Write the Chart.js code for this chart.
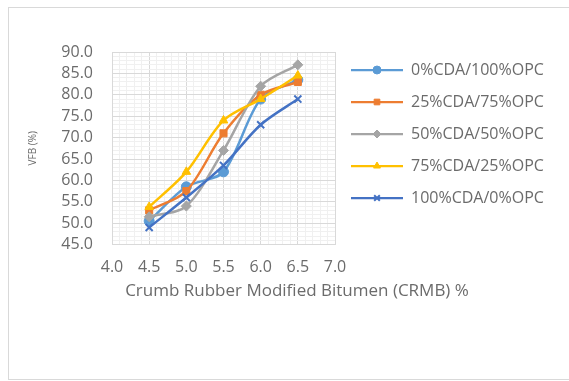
<!DOCTYPE html>
<html>
<head>
<meta charset="utf-8">
<script src="https://cdn.jsdelivr.net/npm/chart.js@4.4.1/dist/chart.umd.min.js"></script>
<style>
  html, body { margin: 0; padding: 0; background: #fff; }
  #wrap { position: relative; width: 569px; height: 381px; overflow: hidden; }
  #frame { position: absolute; left: 8px; top: 7px; width: 600px; height: 371px; border: 1px solid #d9d9d9; }
  canvas { position: absolute; left: 0; top: 0; }
</style>
</head>
<body>
<div id="wrap">
  <div id="frame"></div>
  <canvas id="vfbChart" width="569" height="381"></canvas>
</div>
<script>
// CRMB content (%) on the x axis
const crmbContent = [4.5, 5.0, 5.5, 6.0, 6.5];

const seriesNames = ['0%CDA/100%OPC', '25%CDA/75%OPC', '50%CDA/50%OPC', '75%CDA/25%OPC', '100%CDA/0%OPC'];

// VFB (%)
const vfbCda0 = [50.5, 58.5, 62.0, 79.0, 83.5];
const vfbCda25 = [53.0, 57.5, 71.0, 80.0, 83.0];
const vfbCda50 = [51.5, 54.0, 67.0, 82.0, 87.0];
const vfbCda75 = [53.8, 62.0, 74.0, 79.0, 84.5];
const vfbCda100 = [49.0, 56.0, 63.5, 73.0, 79.0];

const xTickLabels = [4.0, 4.5, 5.0, 5.5, 6.0, 6.5, 7.0];
const yTickLabels = [45, 50, 55, 60, 65, 70, 75, 80, 85, 90];

const seriesColors = ['#5b9bd5', '#ed7d31', '#a5a5a5', '#ffc000', '#4472c4'];
const seriesMarkers = ['circle', 'rect', 'rectRot', 'triangle', 'crossRot'];

const textColor = '#6b6b6b';
const fontFamily = '"Open Sans", sans-serif';

function isMajor(value, majors) {
    return majors.some(m => Math.abs(m - value) < 1e-6);
}

// legend sample: short line with the marker in the middle
function legendIcon(color, marker) {
    const c = document.createElement('canvas');
    c.width = 52;
    c.height = 14;
    const g = c.getContext('2d');
    g.strokeStyle = color;
    g.fillStyle = color;
    g.lineWidth = 2.25;
    g.beginPath();
    g.moveTo(0, 7);
    g.lineTo(52, 7);
    g.stroke();
    g.lineWidth = marker === 'crossRot' ? 2 : 1;
    Chart.helpers.drawPoint(g, { pointStyle: marker, radius: 4, borderWidth: g.lineWidth }, 26, 7);
    return c;
}

const seriesValues = [vfbCda0, vfbCda25, vfbCda50, vfbCda75, vfbCda100];

const datasets = seriesValues.map((values, i) => ({
    label: seriesNames[i],
    data: values.map((v, j) => ({ x: crmbContent[j], y: v })),
    borderColor: seriesColors[i],
    backgroundColor: seriesColors[i],
    pointBackgroundColor: seriesColors[i],
    pointBorderColor: seriesColors[i],
    pointStyle: seriesMarkers[i],
    pointRadius: 5,
    pointBorderWidth: seriesMarkers[i] === 'crossRot' ? 2 : 1,
    borderWidth: 2.5,
    tension: 0.3,
    order: seriesValues.length - i
}));

// fixed legend width and a small upward nudge
const legendPlacePlugin = {
    id: 'legendPlace',
    beforeInit(chart) {
        const fit = chart.legend.fit;
        chart.legend.fit = function () {
            fit.call(this);
            this.width = 234;
        };
    },
    afterLayout(chart) {
        chart.legend.top -= 6;
        chart.legend.bottom -= 6;
    }
};

const ctx = document.getElementById('vfbChart').getContext('2d');

new Chart(ctx, {
    type: 'line',
    data: { datasets: datasets },
    options: {
        responsive: false,
        animation: false,
        layout: { padding: { left: 25, top: 52, right: 0, bottom: 80 } },
        plugins: {
            tooltip: { enabled: false },
            // x axis title, drawn as a bottom title so it is not squeezed to the plot width
            title: {
                display: true,
                position: 'bottom',
                text: 'Crumb Rubber Modified Bitumen (CRMB) %',
                color: textColor,
                font: { family: fontFamily, size: 17, weight: 'normal' },
                padding: { top: 0, bottom: 0 }
            },
            legend: {
                position: 'right',
                align: 'start',
                fullSize: false,
                labels: {
                    usePointStyle: true,
                    pointStyleWidth: 52,
                    padding: 16,
                    color: textColor,
                    font: { family: fontFamily, size: 16 },
                    generateLabels(chart) {
                        return chart.data.datasets.map((ds, i) => ({
                            text: ds.label,
                            pointStyle: legendIcon(seriesColors[i], seriesMarkers[i]),
                            fillStyle: seriesColors[i],
                            strokeStyle: seriesColors[i],
                            fontColor: textColor,
                            lineWidth: 0,
                            hidden: false,
                            datasetIndex: i
                        }));
                    }
                }
            }
        },
        scales: {
            x: {
                type: 'linear',
                min: 4,
                max: 7,
                afterFit(scale) { scale.height = 36; },
                ticks: {
                    stepSize: 0.1,
                    autoSkip: false,
                    maxRotation: 0,
                    padding: 13,
                    color: textColor,
                    font: { family: fontFamily, size: 16 },
                    callback: v => isMajor(v, xTickLabels) ? v.toFixed(1) : ''
                },
                grid: {
                    drawTicks: false,
                    color: c => isMajor(c.tick.value, xTickLabels) ? '#d9d9d9' : '#f0f0f0'
                },
                border: { color: '#d9d9d9' }
            },
            y: {
                min: 45,
                max: 90,
                afterFit(scale) { scale.width = 87; },
                ticks: {
                    stepSize: 1,
                    autoSkip: false,
                    padding: 19,
                    color: textColor,
                    font: { family: fontFamily, size: 16 },
                    callback: v => isMajor(v, yTickLabels) ? v.toFixed(1) : ''
                },
                grid: {
                    drawTicks: false,
                    color: c => isMajor(c.tick.value, yTickLabels) ? '#d9d9d9' : '#f0f0f0'
                },
                border: { color: '#d9d9d9' },
                title: {
                    display: true,
                    text: 'VFB (%)',
                    color: textColor,
                    font: { family: fontFamily, size: 10 },
                    padding: { top: 2, bottom: 20 }
                }
            }
        }
    },
    plugins: [legendPlacePlugin]
});
</script>
</body>
</html>
